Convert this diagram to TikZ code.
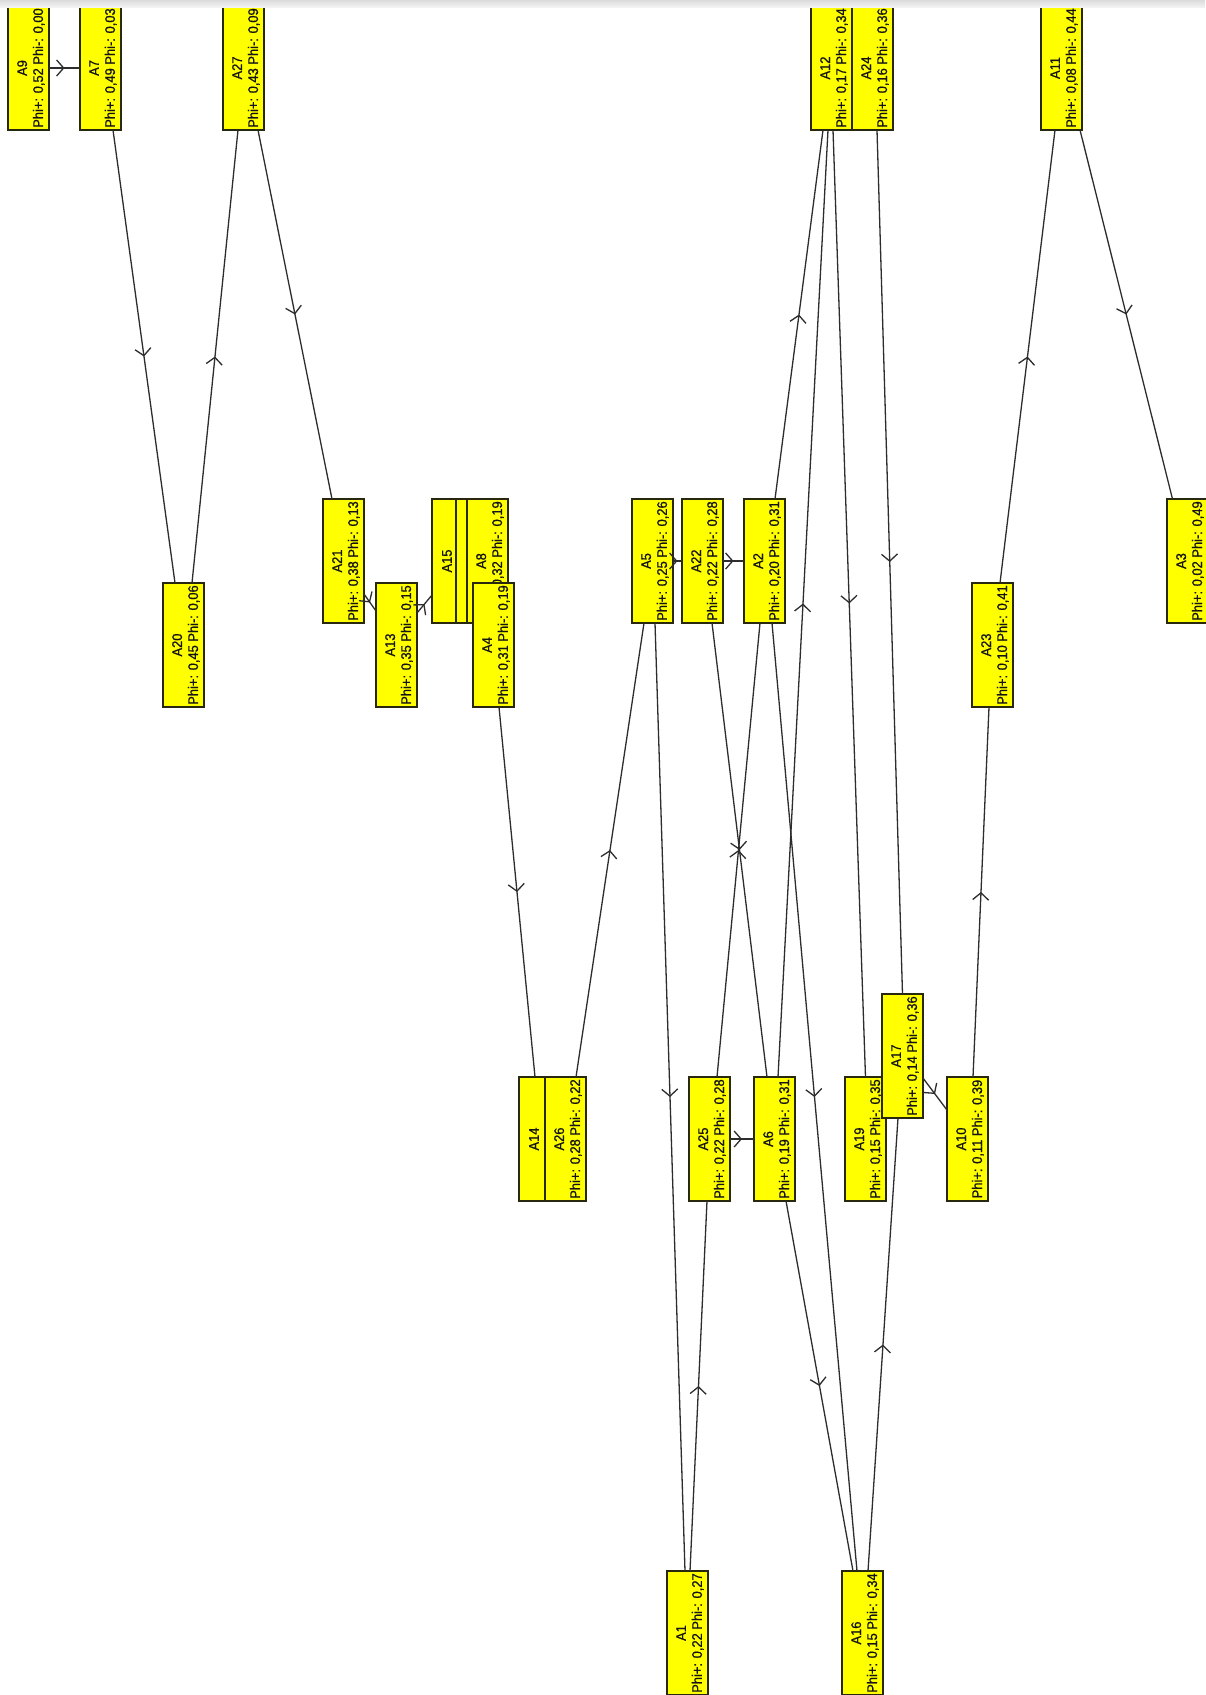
\documentclass[tikz,border=0pt]{standalone}
\usepackage{fontspec}
\newfontfamily\boxfont[FakeStretch=0.92,FakeBold=0.8]{Liberation Sans}
\usetikzlibrary{arrows.meta,decorations.markings,calc}
\definecolor{boxyellow}{RGB}{255,255,0}
\definecolor{edgegray}{RGB}{45,45,45}
\definecolor{boxline}{RGB}{40,40,15}
\tikzset{
  abox/.style={rectangle,draw=boxline,fill=boxyellow,line width=1.2pt,
    minimum width=41pt,minimum height=124pt,inner sep=0pt,outer sep=0pt},
  atext/.style={rotate=90,align=center,inner sep=0pt,text=black!92,
    font=\boxfont\fontsize{14}{16}\selectfont},
  conn/.style={draw=edgegray,line width=1.3pt,
    postaction={decorate,decoration={markings,
      mark=at position 0.5 with {\arrow[edgegray,line width=1.3pt]{Straight Barb[length=7pt,width=16pt]}}}}}
}
% name, left, top, text
\newcommand{\altbox}[4]{%
  \node[abox] (#1) at (#2+20.5,#3+62) {};
  \node[atext] (#1t) at ($(#1.center)+(2.5,0)$) {#4};
}
\newcommand{\altboxname}[3]{%
  \node[abox] (#1) at (#2+20.5,#3+62) {};
  \node[atext] (#1t) at ($(#1.center)+(-5.5,0)$) {#1};
}
\begin{document}
\begin{tikzpicture}[x=1pt,y=-1pt]
\useasboundingbox (0,0) rectangle (1205,1695);
\fill[white] (0,0) rectangle (1205,1695);

% top row
\altbox{A9}{8}{6}{A9\\Phi+: 0,52 Phi-: 0,00}
\altbox{A7}{80}{6}{A7\\Phi+: 0,49 Phi-: 0,03}
\altbox{A27}{223}{6}{A27\\Phi+: 0,43 Phi-: 0,09}
\altbox{A12}{811}{6}{A12\\Phi+: 0,17 Phi-: 0,34}
\altbox{A24}{852}{6}{A24\\Phi+: 0,16 Phi-: 0,36}
\altbox{A11}{1041}{6}{A11\\Phi+: 0,08 Phi-: 0,44}

% second row
\altbox{A21}{323}{499}{A21\\Phi+: 0,38 Phi-: 0,13}
\altboxname{A15}{432}{499}
\altboxname{A18}{456}{499}
\altbox{A8}{467}{499}{A8\\Phi+: 0,32 Phi-: 0,19}
\altbox{A5}{632}{499}{A5\\Phi+: 0,25 Phi-: 0,26}
\altbox{A22}{682}{499}{A22\\Phi+: 0,22 Phi-: 0,28}
\altbox{A2}{744}{499}{A2\\Phi+: 0,20 Phi-: 0,31}
\altbox{A3}{1167}{499}{A3\\Phi+: 0,02 Phi-: 0,49}

% third row
\altbox{A20}{163}{583}{A20\\Phi+: 0,45 Phi-: 0,06}
\altbox{A13}{376}{583}{A13\\Phi+: 0,35 Phi-: 0,15}
\altbox{A4}{473}{583}{A4\\Phi+: 0,31 Phi-: 0,19}
\altbox{A23}{972}{583}{A23\\Phi+: 0,10 Phi-: 0,41}

% fourth/fifth rows
\altbox{A19}{845}{1077}{A19\\Phi+: 0,15 Phi-: 0,35}
\altbox{A17}{882}{994}{A17\\Phi+: 0,14 Phi-: 0,36}
\altboxname{A14}{519}{1077}
\altbox{A26}{545}{1077}{A26\\Phi+: 0,28 Phi-: 0,22}
\altbox{A25}{689}{1077}{A25\\Phi+: 0,22 Phi-: 0,28}
\altbox{A6}{754}{1077}{A6\\Phi+: 0,19 Phi-: 0,31}
\altbox{A10}{947}{1077}{A10\\Phi+: 0,11 Phi-: 0,39}

% bottom row
\altbox{A1}{667}{1571}{A1\\Phi+: 0,22 Phi-: 0,27}
\altbox{A16}{842}{1571}{A16\\Phi+: 0,15 Phi-: 0,34}

% connectors
\draw[conn] (A9.east) -- (A7.west);
\draw[conn] ($(A7.south)+(12.5,0)$) -- ($(A20.north)+(-8.5,0)$);
\draw[conn] ($(A20.north)+(8.5,0)$) -- ($(A27.south)+(-5.5,0)$);
\draw[conn] ($(A27.south)+(14.5,0)$) -- ($(A21.north)+(-11.5,0)$);
\draw[conn] ($(A21.east)+(0,33)$) -- ($(A13.west)+(0,-34)$);
\draw[conn] ($(A13.east)+(0,-32)$) -- ($(A15.west)+(0,34)$);
\draw[conn] ($(A4.south)+(5.5,0)$) -- ($(A14.north)+(-4.5,0)$);
\draw[conn] ($(A26.north)+(10.5,0)$) -- ($(A5.south)+(-8.5,0)$);
\draw[conn] (A5.east) -- (A22.west);
\draw[conn] (A22.east) -- (A2.west);
\draw[conn] ($(A5.south)+(2.5,0)$) -- ($(A1.north)+(-2.5,0)$);
\draw[conn] ($(A1.north)+(2.5,0)$) -- ($(A25.south)+(-2.5,0)$);
\draw[conn] ($(A22.south)+(9.5,0)$) -- ($(A6.north)+(-7.5,0)$);
\draw[conn] ($(A25.north)+(7.5,0)$) -- ($(A2.south)+(-4.5,0)$);
\draw[conn] ($(A2.south)+(7.5,0)$) -- ($(A16.north)+(-5.5,0)$);
\draw[conn] ($(A6.south)+(11.5,0)$) -- ($(A16.north)+(-9.5,0)$);
\draw[conn] ($(A2.north)+(10.5,0)$) -- ($(A12.south)+(-8.5,0)$);
\draw[conn] ($(A6.north)+(3.5,0)$) -- ($(A12.south)+(-3.5,0)$);
\draw[conn] ($(A12.south)+(1.5,0)$) -- (A19.north);
\draw[conn] ($(A24.south)+(4.5,0)$) -- (A17.north);
\draw[conn] ($(A17.east)+(0,22)$) -- ($(A10.west)+(0,-29)$);
\draw[conn] ($(A16.north)+(5.5,0)$) -- ($(A17.south)+(-4.5,0)$);
\draw[conn] (A25.east) -- (A6.west);
\draw[conn] ($(A10.north)+(5.5,0)$) -- ($(A23.south)+(-3.5,0)$);
\draw[conn] ($(A23.north)+(7.5,0)$) -- ($(A11.south)+(-6.5,0)$);
\draw[conn] ($(A11.south)+(18.5,0)$) -- ($(A3.north)+(-15,0)$);

% top grey band of the window
\shade[top color=black!14,bottom color=black!5] (0,0) rectangle (1205,7);
\end{tikzpicture}
\end{document}
